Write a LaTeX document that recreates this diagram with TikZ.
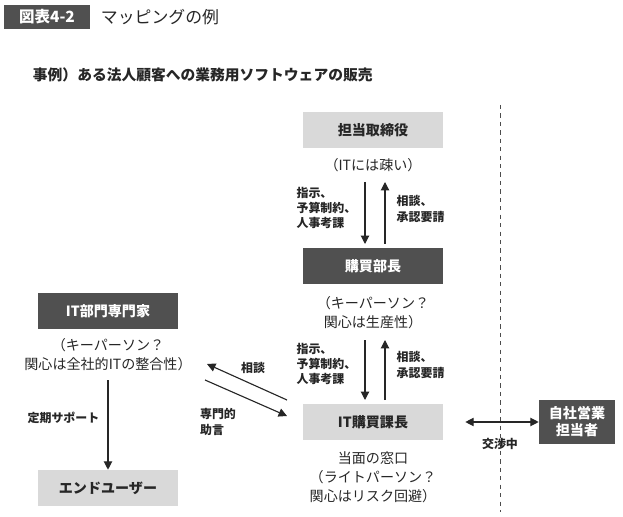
\documentclass[tikz,border=0pt]{standalone}
\usepackage{fontspec}
\setmainfont{Noto Sans CJK JP}
\usetikzlibrary{arrows.meta}

\definecolor{darkbox}{HTML}{505050}
\definecolor{lightbox}{HTML}{D9D9D9}

\begin{document}
\begin{tikzpicture}[x=0.025cm,y=-0.025cm,
  darkrole/.style={fill=darkbox,text=white,font=\fontsize{10}{12}\selectfont\bfseries,minimum width=3.5cm,minimum height=0.9cm,align=center,inner sep=1pt},
  lightrole/.style={fill=lightbox,text=black!85,font=\fontsize{10}{12}\selectfont\bfseries,minimum width=3.5cm,minimum height=0.9cm,align=center,inner sep=1pt},
  note/.style={font=\fontsize{10}{13.5}\selectfont,text=black!85,align=center},
  tag/.style={font=\fontsize{8.5}{11}\selectfont\bfseries,text=black!85,align=left,inner sep=1pt},
  flow/.style={-{Triangle[length=6pt,width=6pt]},thick,black!85}]

\useasboundingbox (0,0) rectangle (623,517);

% === Title ===
\node[fill=darkbox,text=white,font=\fontsize{11}{13}\selectfont\bfseries,minimum width=2.15cm,minimum height=0.6cm,inner sep=0pt] (fig) at (47,17) {図表4-2};
\node[anchor=west,font=\fontsize{12}{14}\selectfont,text=black!85] (figtitle) at (96,17) {マッピングの例};
\node[anchor=west,font=\fontsize{10.5}{13}\selectfont\bfseries,text=black!85] (case) at (28,75) {事例）ある法人顧客への業務用ソフトウェアの販売};

% === Customer chain ===
\node[lightrole] (director) at (373,130) {担当取締役};
\node[note] (directornote) at (373,165) {（ITには疎い）};
\node[darkrole] (manager) at (373,266) {購買部長};
\node[note] (managernote) at (373,313) {（キーパーソン？\\関心は生産性）};
\node[lightrole] (chief) at (373,422) {IT購買課長};
\node[note] (chiefnote) at (373,477) {当面の窓口\\（ライトパーソン？\\関心はリスク回避）};

\coordinate (d1) at (365,182); \coordinate (d2) at (365,244);
\coordinate (u1) at (385,244); \coordinate (u2) at (385,182);
\draw[flow] (d1) -- (d2);
\draw[flow] (u1) -- (u2);
\node[tag,anchor=east] (order1) at (358,208) {指示、\\予算制約、\\人事考課};
\node[tag,anchor=west] (ask1) at (395,209) {相談、\\承認要請};

\coordinate (d3) at (365,340); \coordinate (d4) at (365,400);
\coordinate (u3) at (385,400); \coordinate (u4) at (385,340);
\draw[flow] (d3) -- (d4);
\draw[flow] (u3) -- (u4);
\node[tag,anchor=east] (order2) at (358,364) {指示、\\予算制約、\\人事考課};
\node[tag,anchor=west] (ask2) at (395,365) {相談、\\承認要請};

% === Own side ===
\draw[dashed,black!70] (500,105) -- (500,512);
\node[darkrole,minimum width=1.9cm,minimum height=1.12cm,font=\fontsize{10}{12}\selectfont\bfseries] (sales) at (577,422) {自社営業\\担当者};
\draw[{Triangle[length=6pt,width=6pt]}-{Triangle[length=6pt,width=6pt]},thick,black!85] (chief.east) ++(22,0) -- (sales.west);
\node[tag] (nego) at (500,444) {交渉中};

% === IT department ===
\node[darkrole] (expert) at (108,311) {IT部門専門家};
\node[note] (expertnote) at (108,355) {（キーパーソン？\\関心は全社的ITの整合性）};
\node[lightrole] (user) at (108,488) {エンドユーザー};
\draw[flow] (108,380) -- (user.north);
\node[tag,anchor=east] (support) at (101,418) {定期サポート};

\coordinate (c1) at (287,400); \coordinate (c2) at (207,364);
\coordinate (a1) at (205,380); \coordinate (a2) at (287,416);
\draw[flow] (c1) -- (c2);
\draw[flow] (a1) -- (a2);
\node[tag] (consult) at (253,368) {相談};
\node[tag] (advice) at (218,422) {専門的\\助言};

\end{tikzpicture}
\end{document}
